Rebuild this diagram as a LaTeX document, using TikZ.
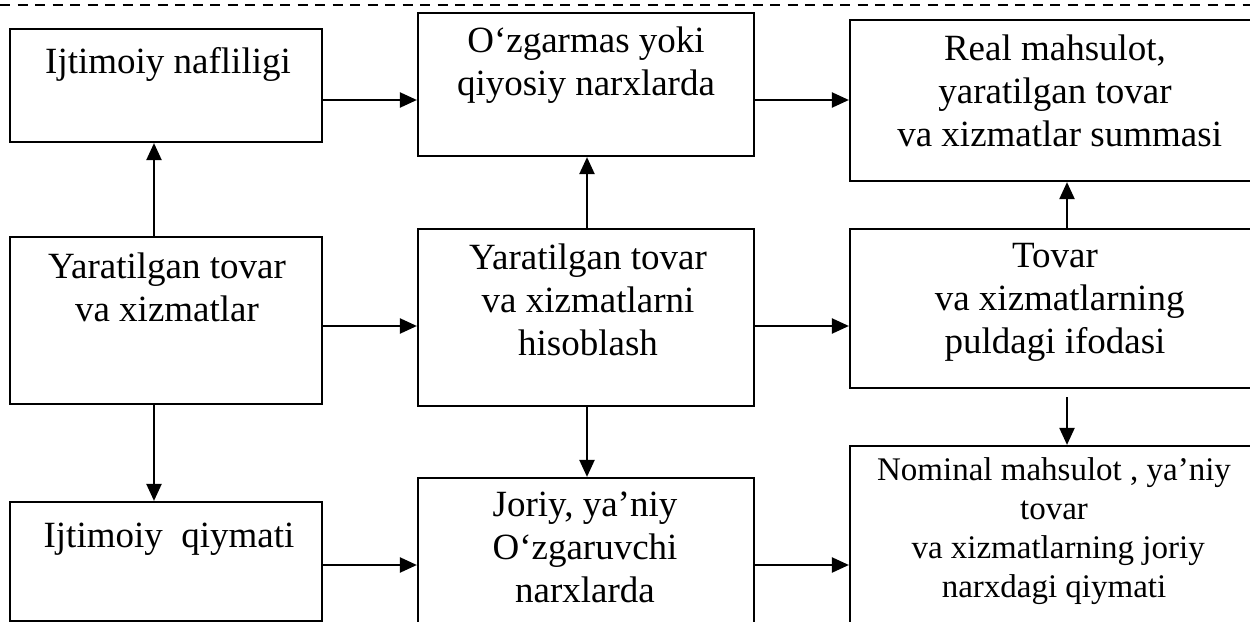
\documentclass[tikz,border=0pt]{standalone}
\usepackage{fontspec}
\setmainfont{Liberation Serif}
\usetikzlibrary{arrows.meta,fit}
\tikzset{
  box/.style={draw, rectangle, line width=2.2pt, inner sep=0pt},
  txt/.style={align=center, inner sep=0pt, anchor=north,
    font=\fontsize{37}{43}\selectfont, execute at begin node=\strut},
  smalltxt/.style={txt, font=\fontsize{33}{39}\selectfont},
  arr/.style={line width=2.2pt, -{Triangle[length=17pt,width=15pt]}},
  toprule/.style={line width=2pt, dash pattern=on 10pt off 7.5pt},
}
\begin{document}
\begin{tikzpicture}[x=1pt, y=-1pt]
\useasboundingbox (0,0) rectangle (1250,621);
\clip (0,0) rectangle (1250,621);

% dashed rule along the top
\coordinate (ruleL) at (0,5);
\coordinate (ruleR) at (1250,5);
\draw[toprule] (ruleL) -- (ruleR);

% boxes
\node[box, fit={(10,29) (322,142)}]   (n1) {};
\node[box, fit={(418,13) (754,156)}]  (n2) {};
\node[box, fit={(850,20) (1260,181)}] (n3) {};
\node[box, fit={(10,237) (322,404)}]  (n4) {};
\node[box, fit={(418,229) (754,406)}] (n5) {};
\node[box, fit={(850,229) (1260,388)}] (n6) {};
\node[box, fit={(10,502) (322,621)}]  (n7) {};
\node[box, fit={(418,478) (754,640)}] (n8) {};
\node[box, fit={(850,446) (1260,640)}] (n9) {};

% box texts (top of node = first baseline - strut height)
\node[txt] (t1) at (168,42.9) {Ijtimoiy nafliligi};
\node[txt] (t2) at (586,26.9) {O‘zgarmas yoki\\qiyosiy narxlarda};
\node[txt] (t3) at (1055,34.9) {Real mahsulot,\\yaratilgan tovar\\\hspace*{.25em}va xizmatlar summasi};
\node[txt] (t4) at (167,252.9) {Yaratilgan tovar\\va xizmatlar};
\node[txt] (t5) at (588,243.9) {Yaratilgan tovar\\va xizmatlarni\\hisoblash};
\node[txt] (t6) at (1055,242.9) {Tovar\\\hspace*{.25em}va xizmatlarning\\puldagi ifodasi};
\node[txt] (t7) at (169,516.9) {Ijtimoiy~ qiymati};
\node[txt] (t8) at (585,491.9) {Joriy, ya’niy\\O‘zgaruvchi\\narxlarda};
\node[smalltxt] (t9) at (1054,457.7) {Nominal mahsulot , ya’niy\\tovar\\\hspace*{.25em}va xizmatlarning joriy\\narxdagi qiymati};

% connectors
\draw[arr] (n1.east |- 0,100) -- (n2.west |- 0,100);
\draw[arr] (n2.east |- 0,100) -- (n3.west |- 0,100);
\draw[arr] (n4.north -| 154,0) -- (n1.south -| 154,0);
\draw[arr] (n5.north -| 587,0) -- (n2.south -| 587,0);
\draw[arr] (n6.north -| 1067,0) -- (n3.south -| 1067,0);
\draw[arr] (n4.east |- 0,326) -- (n5.west |- 0,326);
\draw[arr] (n5.east |- 0,326) -- (n6.west |- 0,326);
\draw[arr] (n4.south -| 154,0) -- (n7.north -| 154,0);
\draw[arr] (n5.south -| 587,0) -- (n8.north -| 587,0);
\draw[arr, shorten <=8pt] (n6.south -| 1067,0) -- (n9.north -| 1067,0);
\draw[arr] (n7.east |- 0,565) -- (n8.west |- 0,565);
\draw[arr] (n8.east |- 0,565) -- (n9.west |- 0,565);
\end{tikzpicture}
\end{document}
